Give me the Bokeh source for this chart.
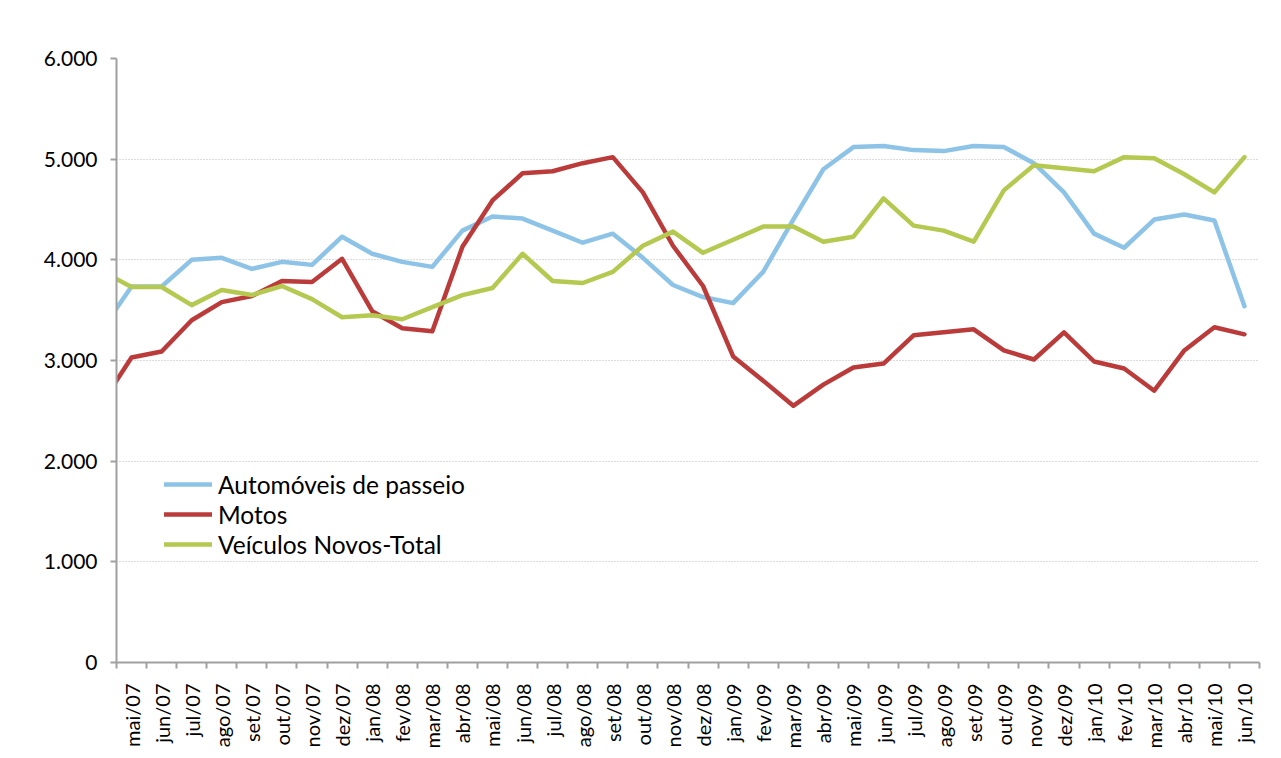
import math
from bokeh.plotting import figure
from bokeh.models import Range1d, FixedTicker, Legend, LegendItem, ColumnDataSource
from bokeh.embed import file_html
from bokeh.resources import INLINE

months = ["abr/07",
          "mai/07", "jun/07", "jul/07", "ago/07", "set/07", "out/07", "nov/07", "dez/07",
          "jan/08", "fev/08", "mar/08", "abr/08", "mai/08", "jun/08", "jul/08", "ago/08",
          "set/08", "out/08", "nov/08", "dez/08",
          "jan/09", "fev/09", "mar/09", "abr/09", "mai/09", "jun/09", "jul/09", "ago/09",
          "set/09", "out/09", "nov/09", "dez/09",
          "jan/10", "fev/10", "mar/10", "abr/10", "mai/10", "jun/10"]

automoveis = [3300,
              3735, 3735, 4000, 4020, 3910, 3980, 3950, 4230,
              4060, 3980, 3930, 4290, 4430, 4410, 4290, 4170,
              4260, 4020, 3750, 3630,
              3570, 3880, 4400, 4900, 5120, 5130, 5090, 5080,
              5130, 5120, 4960, 4670,
              4260, 4120, 4400, 4450, 4390, 3540]

motos = [2570,
         3030, 3090, 3400, 3580, 3640, 3790, 3780, 4010,
         3490, 3320, 3290, 4130, 4590, 4860, 4880, 4960,
         5020, 4670, 4140, 3740,
         3040, 2800, 2550, 2760, 2930, 2970, 3250, 3280,
         3310, 3100, 3010, 3280,
         2990, 2920, 2700, 3100, 3330, 3260]

veiculos_total = [3890,
                  3730, 3730, 3550, 3700, 3650, 3740, 3610, 3430,
                  3450, 3410, 3530, 3650, 3720, 4060, 3790, 3770,
                  3880, 4140, 4280, 4070,
                  4200, 4330, 4330, 4180, 4230, 4610, 4340, 4290,
                  4180, 4690, 4940, 4910,
                  4880, 5020, 5010, 4850, 4670, 5020]

y_ticks = [0, 1000, 2000, 3000, 4000, 5000, 6000]
y_tick_labels = ["0", "1.000", "2.000", "3.000", "4.000", "5.000", "6.000"]

series_names = ["Automóveis de passeio", "Motos", "Veículos Novos-Total"]
series_colors = ["#8DC3E7", "#BB3B3B", "#B5C84F"]

x = list(range(-1, len(months) - 1))
n_shown = len(months) - 1

FONT = "Lato"

p = figure(width=1281, height=758, output_backend="svg", toolbar_location=None,
           x_range=Range1d(-0.5, n_shown - 0.5), y_range=Range1d(0, 6000),
           min_border_left=116, min_border_right=22, min_border_top=58,
           min_border_bottom=96)
p.outline_line_color = None
p.background_fill_color = "white"
p.border_fill_color = "white"

renderers = []
for vals, col in zip([automoveis, motos, veiculos_total], series_colors):
    src = ColumnDataSource(dict(x=x, y=vals))
    r = p.line("x", "y", source=src, line_color=col, line_width=4.5,
               line_join="round", line_cap="round")
    renderers.append(r)

# y axis
p.yaxis.ticker = FixedTicker(ticks=y_ticks)
p.yaxis.major_label_overrides = {t: l for t, l in zip(y_ticks, y_tick_labels)}
p.yaxis.major_label_text_font = FONT
p.yaxis.major_label_text_font_size = "21px"
p.yaxis.major_label_text_color = "#000000"
p.yaxis.axis_line_color = "#a0a0a0"
p.yaxis.axis_line_width = 2
p.yaxis.major_tick_line_color = "#a0a0a0"
p.yaxis.major_tick_line_width = 2
p.yaxis.major_tick_out = 6
p.yaxis.major_tick_in = 0
p.yaxis.minor_tick_line_color = None
p.yaxis.major_label_standoff = 13

# x axis
p.xaxis.ticker = FixedTicker(ticks=list(range(n_shown)),
                             minor_ticks=[i - 0.5 for i in range(n_shown + 1)])
p.xaxis.major_label_overrides = {i: months[i + 1] for i in range(n_shown)}
p.xaxis.major_label_orientation = math.pi / 2
p.xaxis.major_label_text_font = FONT
p.xaxis.major_label_text_font_size = "20px"
p.xaxis.major_label_text_color = "#000000"
p.xaxis.axis_line_color = "#a0a0a0"
p.xaxis.axis_line_width = 2
p.xaxis.major_tick_line_color = None
p.xaxis.minor_tick_line_color = "#a0a0a0"
p.xaxis.minor_tick_line_width = 2
p.xaxis.minor_tick_out = 6
p.xaxis.minor_tick_in = 0
p.xaxis.major_label_standoff = 15

p.xgrid.grid_line_color = None
p.ygrid.grid_line_color = "#b8b8b8"
p.ygrid.grid_line_dash = "1 2"
p.ygrid.grid_line_width = 1

legend = Legend(items=[LegendItem(label=n, renderers=[r]) for n, r in zip(series_names, renderers)],
                location=(48, 103), orientation="vertical")
legend.label_text_font = FONT
legend.label_text_font_size = "24.5px"
legend.label_text_color = "#000000"
legend.glyph_width = 48
legend.glyph_height = 30
legend.label_height = 30
legend.spacing = 0
legend.padding = 0
legend.margin = 0
legend.label_standoff = 6
legend.border_line_color = None
legend.background_fill_alpha = 0
p.add_layout(legend, "center")

open("out.html", "w").write(file_html(p, INLINE))
